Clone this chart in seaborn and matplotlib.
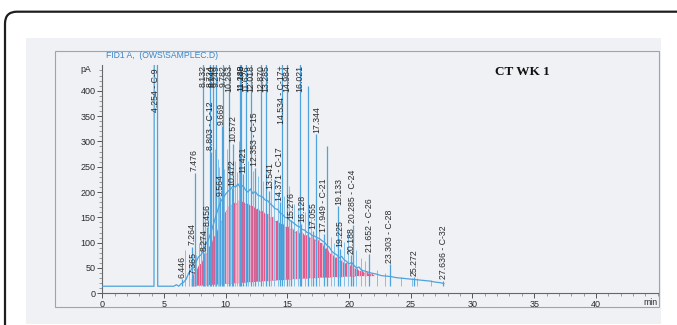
import pandas as pd
import seaborn as sns
import matplotlib.pyplot as plt
from matplotlib.patches import FancyBboxPatch, Rectangle
from matplotlib.transforms import IdentityTransform

# detector signal (baseline + unresolved hump), min / pA
trace_t = [0.0, 4.19, 4.21, 4.47, 4.49, 5.8, 6.0, 6.2, 6.4, 6.6, 6.8, 7.0, 7.2, 7.4, 7.6,
           7.8, 8.0, 8.2, 8.4, 8.6, 8.8, 9.0, 9.2, 9.4, 9.6, 9.8, 10.0, 10.2, 10.4, 10.6,
           10.8, 11.0, 11.2, 11.4, 11.6, 11.8, 12.0, 12.2, 12.4, 12.6, 12.8, 13.0, 13.2,
           13.4, 13.6, 13.8, 14.0, 14.2, 14.4, 14.6, 14.8, 15.0, 15.2, 15.4, 15.6, 15.8,
           16.0, 16.2, 16.4, 16.6, 16.8, 17.0, 17.2, 17.4, 17.6, 17.8, 18.0, 18.2, 18.4,
           18.6, 18.8, 19.0, 19.2, 19.4, 19.6, 19.8, 20.0, 20.2, 20.4, 20.6, 20.8, 21.0,
           21.4, 21.8, 22.2, 22.6, 23.0, 23.4, 23.8, 24.2, 24.6, 25.0, 25.4, 25.8, 26.2,
           26.6, 27.0, 27.4, 27.7]
trace_y = [14, 14, 470, 470, 14, 14, 17, 14, 19, 22, 28, 40, 46, 58, 62,
           72, 76, 84, 98, 106, 120, 136, 152, 168, 182, 188, 196, 202, 206, 212,
           210, 216, 208, 213, 204, 200, 206, 197, 201, 194, 192, 190, 184,
           183, 177, 173, 167, 166, 159, 156, 150, 149, 144, 141, 137, 133,
           131, 126, 125, 120, 119, 114, 113, 110, 108, 104, 101, 95, 91,
           83, 79, 76, 70, 73, 66, 63, 58, 61, 55, 50, 52, 46,
           43, 40, 38, 35, 34, 33, 31, 30, 29, 28, 27, 26, 25,
           24, 22, 21, 19]

# integrated area (pink drop lines): time, top, integration baseline
pink_t = [7.2, 7.4, 7.6, 7.8, 8.0, 8.2, 8.4, 8.6, 8.8, 9.0, 9.2, 9.4, 9.6, 9.8, 10.0,
          10.2, 10.4, 10.6, 10.8, 11.0, 11.2, 11.4, 11.6, 11.8, 12.0, 12.2, 12.4, 12.6,
          12.8, 13.0, 13.2, 13.4, 13.6, 13.8, 14.0, 14.2, 14.4, 14.6, 14.8, 15.0, 15.2,
          15.4, 15.6, 15.8, 16.0, 16.2, 16.4, 16.6, 16.8, 17.0, 17.2, 17.4, 17.6, 17.8,
          18.0, 18.2, 18.4, 18.6, 18.8, 19.0, 19.2, 19.4, 19.6, 19.8, 20.0, 20.2, 20.4,
          20.6, 20.8, 21.0, 21.2, 21.4, 21.6, 21.8, 22.0]
pink_top = [28, 42, 46, 57, 60, 72, 78, 92, 98, 112, 118, 134, 141, 157, 163,
            172, 174, 181, 177, 184, 180, 183, 176, 179, 172, 174, 166, 169,
            161, 164, 156, 158, 150, 152, 143, 145, 137, 139, 131, 134, 127,
            129, 122, 125, 118, 121, 114, 117, 110, 113, 106, 109, 101, 100,
            89, 90, 79, 80, 71, 72, 64, 66, 59, 62, 55, 57, 49,
            51, 44, 47, 41, 44, 38, 40, 36]
pink_lo = [15, 15, 16, 16, 16, 17, 17, 17, 18, 18, 18, 19, 19, 19, 20,
           20, 20, 21, 21, 21, 22, 22, 22, 23, 23, 23, 24, 24, 24, 25,
           25, 25, 26, 26, 26, 27, 27, 27, 28, 28, 28, 29, 29, 29, 30,
           30, 30, 30, 31, 31, 31, 31, 32, 32, 32, 32, 32, 33, 33, 33,
           33, 33, 34, 34, 34, 34, 34, 35, 35, 35, 35, 35, 35, 35, 35]

# resolved peaks (470 = off scale)
peak_t = [6.446, 7.264, 7.365, 7.476, 8.132, 8.274, 8.456, 8.724, 8.803, 8.940, 9.249,
          9.564, 9.669, 9.782, 10.263, 10.472, 10.572, 11.188, 11.249, 11.421, 11.626,
          12.018, 12.353, 12.870, 13.285, 13.541, 14.371, 14.534, 14.984, 15.276,
          16.021, 16.128, 16.700, 17.055, 17.344, 17.949, 18.200, 19.133, 19.225,
          20.188, 20.285, 21.652, 23.303, 25.272, 27.636]
peak_h = [28, 92, 35, 238, 470, 80, 130, 470, 280, 470, 470,
          190, 330, 470, 470, 208, 295, 470, 470, 235, 470,
          470, 248, 470, 470, 203, 180, 470, 470, 144,
          470, 137, 410, 124, 314, 118, 290, 172, 88,
          75, 135, 78, 57, 32, 25]
peak_lbl = ["6.446", "7.264", "7.365", "7.476", "8.132", "8.274", "8.456", "8.724",
            "8.803 - C-12", "8.940", "9.249", "9.564", "9.669", "9.782", "10.263",
            "10.472", "10.572", "11.188", "11.249", "11.421", "11.626", "12.018",
            "12.353 - C-15", "12.870", "13.285", "13.541", "14.371 - C-17",
            "14.534 - C-17+", "14.984", "15.276", "16.021", "16.128", "", "17.055",
            "17.344", "17.949 - C-21", "", "19.133", "19.225", "20.188",
            "20.285 - C-24", "21.652 - C-26", "23.303 - C-28", "25.272",
            "27.636 - C-32"]

# small unlabeled spikes on the hump
minor_t = [6.7, 7.05, 7.6, 7.8, 8.0, 8.35, 8.6, 9.0, 9.1, 9.35, 9.45, 9.9, 10.1, 10.35,
           10.75, 10.9, 11.05, 11.8, 12.2, 12.6, 13.0, 13.7, 13.9, 14.2, 14.7, 15.1,
           15.5, 15.9, 16.4, 16.9, 17.6, 18.5, 18.8, 19.6, 19.9, 20.6, 21.0, 21.3,
           22.3, 22.9, 24.2, 25.1, 25.5, 26.6]
minor_h = [85, 60, 75, 100, 110, 150, 170, 205, 285, 265, 250, 245, 285, 255,
           262, 240, 300, 262, 242, 232, 222, 215, 226, 200, 192, 212,
           176, 166, 160, 146, 135, 112, 100, 102, 122, 86, 70, 64,
           46, 40, 33, 31, 30, 27]

x_ticks = [0, 5, 10, 15, 20, 25, 30, 35, 40]
y_ticks = [0, 50, 100, 150, 200, 250, 300, 350, 400]

BLUE = "#4ea3dc"
LIGHT_BLUE = "#86bfe6"
PINK = "#e6588a"
LIGHT_PINK = "#f7c3d4"
TXT = "#2b2b2b"

sns.set_theme(style="ticks")
plt.rcParams["font.family"] = ["Liberation Sans", "DejaVu Sans"]

fig = plt.figure(figsize=(6.77, 3.25), dpi=100)
fig.patch.set_facecolor("white")

# page border, scanned area, plot frame (pixel coords, origin bottom-left)
idt = IdentityTransform()
fig.add_artist(FancyBboxPatch((5, -40), 740, 353.3,
                              boxstyle="round,pad=0,rounding_size=12",
                              transform=idt, facecolor="white",
                              edgecolor="#1e1e1e", lw=1.6, zorder=-3))
fig.add_artist(Rectangle((26, 1), 634.6, 286.3, transform=idt,
                         facecolor="#eff1f5", edgecolor="none", zorder=-2))
fig.add_artist(Rectangle((55.3, 17.7), 603.2, 256.3, transform=idt,
                         facecolor="none", edgecolor="#a3a3a3", lw=0.8, zorder=-1))

ax = fig.add_axes([0.1511, 0.0975, 0.8202, 0.7012])
ax.set_facecolor("none")

ax.fill_between(pink_t, pink_lo, pink_top, color=PINK, lw=0, zorder=2)
ax.vlines(pink_t, pink_lo, pink_top, color=LIGHT_PINK, lw=0.6, zorder=2.2)
ax.vlines(minor_t, 14, minor_h, color=LIGHT_BLUE, lw=0.7, zorder=2.5)
ax.vlines(peak_t, 14, peak_h, color=BLUE, lw=0.9, zorder=3)

trace = pd.DataFrame({"t": trace_t, "y": trace_y})
sns.lineplot(data=trace, x="t", y="y", ax=ax, color=BLUE, lw=0.9,
             estimator=None, sort=False, zorder=3)

ax.text(4.35, 358, "4.254 - C-9", rotation=90, ha="center", va="bottom",
        fontsize=6.3, color=TXT, clip_on=True)
for t, h, lbl in zip(peak_t, peak_h, peak_lbl):
    if not lbl:
        continue
    if h >= 450:
        # off-scale peaks: label hangs from the top of the frame
        ax.text(t, 451, lbl, rotation=90, ha="center", va="top",
                fontsize=6.3, color=TXT, clip_on=True)
    else:
        ax.text(t, h + 3, lbl, rotation=90, ha="center", va="bottom",
                fontsize=6.3, color=TXT, clip_on=True)

ax.set_xlim(0, 45)
ax.set_ylim(0, 450)
ax.set_xticks(x_ticks)
ax.set_yticks(y_ticks)
ax.set_xticks(range(0, 46), minor=True)
ax.set_yticks(range(0, 450, 10), minor=True)
ax.tick_params(axis="both", which="major", labelsize=6.5, colors="#555555",
               labelcolor=TXT, length=3.5, width=0.7, pad=1.5)
ax.tick_params(axis="both", which="minor", colors="#777777", length=2, width=0.5)
ax.set_xlabel("")
ax.set_ylabel("")
sns.despine(ax=ax, top=True, right=True)
for side in ["left", "bottom"]:
    ax.spines[side].set_color("#666666")
    ax.spines[side].set_linewidth(0.8)

ax.text(-0.9, 442, "pA", ha="right", va="center", fontsize=6.3, color=TXT,
        clip_on=False)
ax.text(45, -19, "min", ha="right", va="center", fontsize=6.3, color=TXT,
        clip_on=False)
fig.text(106 / 677, 1 - 56 / 325, "FID1 A,  (OWS\\SAMPLEC.D)", ha="left",
         va="center", fontsize=6.2, color="#3d86c6")
fig.text(522 / 677, 1 - 72 / 325, "CT WK 1", ha="center", va="center",
         fontsize=9.5, fontweight="bold", family=["Liberation Serif"],
         color="#111111")

fig.savefig("out.png", dpi=100)
